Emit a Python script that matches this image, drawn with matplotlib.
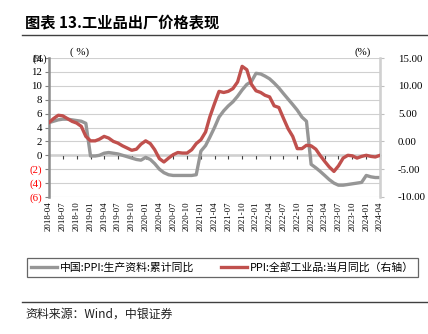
import matplotlib
matplotlib.use("Agg")
import matplotlib.pyplot as plt
from matplotlib.lines import Line2D
import pandas as pd

plt.rcParams['font.family'] = ['Noto Sans CJK SC', 'DejaVu Sans']

months = pd.date_range('2018-04-01', '2024-04-01', freq='MS')

# 中国:PPI:生产资料:累计同比 (left axis)
ppi_materials = [4.7, 4.9, 5.1, 5.2, 5.2, 5.1, 5.0, 4.9, 4.6,
                 -0.1, -0.1, 0.0, 0.3, 0.4, 0.3, 0.2, 0.0, -0.2, -0.4, -0.6, -0.7,
                 -0.3, -0.6, -1.2, -2.0, -2.5, -2.8, -2.9, -2.9, -2.9, -2.9, -2.9, -2.8,
                 0.6, 1.4, 2.6, 4.0, 5.5, 6.4, 7.1, 7.7, 8.5, 9.4, 10.2, 10.6,
                 11.8, 11.7, 11.4, 11.0, 10.4, 9.7, 8.9, 8.1, 7.3, 6.5, 5.5, 4.9,
                 -1.3, -1.8, -2.3, -2.9, -3.5, -4.0, -4.3, -4.3, -4.2, -4.1, -4.0, -3.9,
                 -2.9, -3.1, -3.2, -3.2]

# PPI:全部工业品:当月同比 (right axis)
ppi_all = [3.4, 4.1, 4.7, 4.6, 4.1, 3.6, 3.3, 2.7, 0.9,
           0.1, 0.1, 0.4, 0.9, 0.6, 0.0, -0.3, -0.8, -1.2, -1.6, -1.4, -0.5,
           0.1, -0.4, -1.5, -3.1, -3.7, -3.0, -2.4, -2.0, -2.1, -2.1, -1.5, -0.4,
           0.3, 1.7, 4.4, 6.8, 9.0, 8.8, 9.0, 9.5, 10.7, 13.5, 12.9, 10.3,
           9.1, 8.8, 8.3, 8.0, 6.4, 6.1, 4.2, 2.3, 0.9, -1.3, -1.3, -0.7,
           -0.8, -1.4, -2.5, -3.6, -4.6, -5.4, -4.4, -3.0, -2.5, -2.6, -3.0, -2.7,
           -2.5, -2.7, -2.8, -2.5]

left_ticks = [14, 12, 10, 8, 6, 4, 2, 0, -2, -4, -6]
right_ticks = [15, 10, 5, 0, -5, -10]

gray = '#969696'
red = '#C0504D'
serif = 'Liberation Serif'

fig = plt.figure(figsize=(4.28, 3.34), dpi=100)
ax = fig.add_axes([49 / 428, 1 - 197 / 334, 331 / 428, 139 / 334])
ax2 = ax.twinx()

ax.plot(months, ppi_materials, color=gray, lw=2.4, zorder=3)
ax2.plot(months, ppi_all, color=red, lw=2.4, zorder=3)

ax.set_xlim(months[0], months[-1])
ax.set_ylim(-6, 14)
ax2.set_ylim(-10, 15)

# left axis
ax.set_yticks(left_ticks)
ax.set_yticklabels([str(v) if v >= 0 else '(%d)' % -v for v in left_ticks],
                   family=serif, fontsize=7.8)
for lab, v in zip(ax.get_yticklabels(), left_ticks):
    if v < 0:
        lab.set_color('red')
ax.tick_params(axis='y', length=3, color='#7f7f7f', pad=2)
ax.grid(axis='y', color='#d0d0d0', lw=0.8)
ax.set_axisbelow(True)

# right axis
ax2.set_yticks(right_ticks)
ax2.set_yticklabels(['%.2f' % v for v in right_ticks], family=serif, fontsize=7.8)
ax2.tick_params(axis='y', length=3, color='#bfbfbf', pad=10)

for a in (ax, ax2):
    a.spines['top'].set_visible(False)
    a.spines['bottom'].set_visible(False)
ax.spines['left'].set_color('#8c8c8c')
ax.spines['left'].set_linewidth(1.8)
ax2.spines['left'].set_visible(False)
ax2.spines['right'].set_color('#d0d0d0')
ax2.spines['right'].set_linewidth(1.8)

# x labels at bottom
xt = months[::3]
ax.set_xticks(xt)
ax.set_xticklabels([d.strftime('%Y-%m') for d in xt], rotation=90,
                   family=serif, fontsize=6.3)
ax.tick_params(axis='x', length=0, pad=3)

# zero line with ticks
sec = ax.secondary_xaxis(6 / 20)
sec.set_xticks(xt)
sec.set_xticklabels([])
sec.tick_params(axis='x', length=3, color='#404040', direction='out')
sec.spines['bottom'].set_color('#404040')
sec.spines['bottom'].set_linewidth(1.0)

# unit labels
fig.text(40 / 428, 1 - 59 / 334, '(%)', family=serif, fontsize=7, ha='center', va='center')
fig.text(80 / 428, 1 - 52 / 334, '( %)', family=serif, fontsize=7.8, ha='center', va='center')
fig.text(363 / 428, 1 - 52 / 334, '(%)', family=serif, fontsize=7.8, ha='center', va='center')

# title and rules
fig.text(25 / 428, 1 - 22 / 334, '图表 13.工业品出厂价格表现', fontsize=11,
         fontweight='bold', ha='left', va='center')
fig.add_artist(Line2D([22 / 428, 1], [1 - 35 / 334] * 2, color='#404040', lw=1.0))
fig.add_artist(Line2D([22 / 428, 1], [1 - 302 / 334] * 2, color='#404040', lw=1.0))
fig.text(25 / 428, 1 - 314 / 334, '资料来源：Wind，中银证券', fontsize=8.6,
         style='italic', ha='left', va='center', color='#202020')

# legend
handles = [Line2D([], [], color=gray, lw=2.4), Line2D([], [], color=red, lw=2.4)]
labels = ['中国:PPI:生产资料:累计同比', 'PPI:全部工业品:当月同比（右轴）']
leg = fig.legend(handles, labels, ncol=2, loc='center',
                 bbox_to_anchor=(27 / 428, 1 - 284 / 334, 391 / 428, 33 / 334),
                 mode='expand', fontsize=7.8, frameon=True, fancybox=False,
                 handlelength=2.4, handletextpad=0.2, columnspacing=0.8,
                 borderaxespad=0)
leg.get_frame().set_edgecolor('#404040')
leg.get_frame().set_linewidth(0.9)

fig.savefig('out.png', dpi=100)
